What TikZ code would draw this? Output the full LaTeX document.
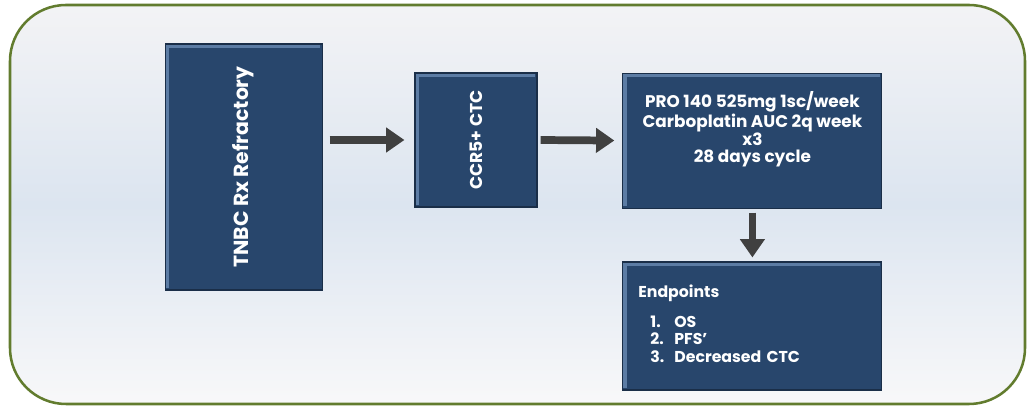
\documentclass[tikz,border=0pt]{standalone}
\usepackage{fontspec}
\setmainfont{Poppins}
\definecolor{tnNavy}{RGB}{40,70,108}
\definecolor{tnEdge}{RGB}{92,124,164}
\definecolor{tnDark}{RGB}{26,46,72}
\definecolor{tnArrow}{RGB}{64,64,64}
\definecolor{tnFrame}{RGB}{98,124,46}
\definecolor{tnTop}{RGB}{243,243,245}
\definecolor{tnMid}{RGB}{220,229,240}
\usetikzlibrary{arrows.meta,positioning}

\begin{document}
\begin{tikzpicture}[
    box/.style={rectangle, fill=tnNavy, draw=tnDark, line width=0.8pt,
        text=white, font=\bfseries\fontsize{12}{12.6}\selectfont, align=center,
        path picture={
            \draw[tnEdge, line width=2.2pt]
                ([shift={(1.5pt,1.5pt)}]path picture bounding box.south west)
                -- ([shift={(1.5pt,-1.5pt)}]path picture bounding box.north west)
                -- ([shift={(-1.5pt,-1.5pt)}]path picture bounding box.north east);
        }},
    flow/.style={draw=tnArrow, line width=5.5pt,
        -{Triangle[width=17pt,length=13pt]}}
]
    % canvas and rounded frame
    \useasboundingbox (0,0) rectangle (25.8,10.225);
    \shade[top color=tnTop, bottom color=tnTop!60!white, middle color=tnMid, rounded corners=1.4cm]
        (0.25,0.125) rectangle (25.625,10.1);
    \draw[tnFrame, line width=1.8pt, rounded corners=1.4cm] (0.25,0.125) rectangle (25.625,10.1);

    % boxes
    \node[box, minimum width=3.925cm, minimum height=6.15cm] (tnbc) at (6.09,6.05)
        {\rotatebox{90}{\fontsize{14.5}{16}\selectfont TNBC Rx Refractory}};
    \node[box, minimum width=3.05cm, minimum height=3.35cm] (ccr) at (11.9,6.725)
        {\rotatebox{90}{\fontsize{12.2}{14}\selectfont CCR5+ CTC}};
    \node[box, minimum width=6.475cm, minimum height=3.375cm, text depth=19pt] (pro) at (18.81,6.71)
        {PRO 140 525mg 1sc/week\\Carboplatin AUC 2q week\\x3\\28 days cycle};
    \node[box, minimum width=6.475cm, minimum height=3.2cm, text width=5.7cm,
        align=left, inner sep=0.375cm, font=\bfseries\fontsize{11.2}{12.4}\selectfont]
        (endp) at (18.81,2.075)
        {Endpoints\\[9pt]
         \begin{tabular}{@{\hspace{0.3cm}}l@{\hspace{0.25cm}}l@{}}
         1. & OS\\ 2. & PFS'\\ 3. & Decreased CTC
         \end{tabular}};

    % arrows
    \draw[flow, shorten <=0.175cm, shorten >=0.25cm] (tnbc.east |- ccr.west) -- (ccr.west);
    \draw[flow, shorten <=0.075cm, shorten >=0.2cm] (ccr.east) -- (pro.west);
    \draw[flow, shorten <=0.1cm, shorten >=0.1cm] (pro.south) -- (endp.north);
\end{tikzpicture}
\end{document}
